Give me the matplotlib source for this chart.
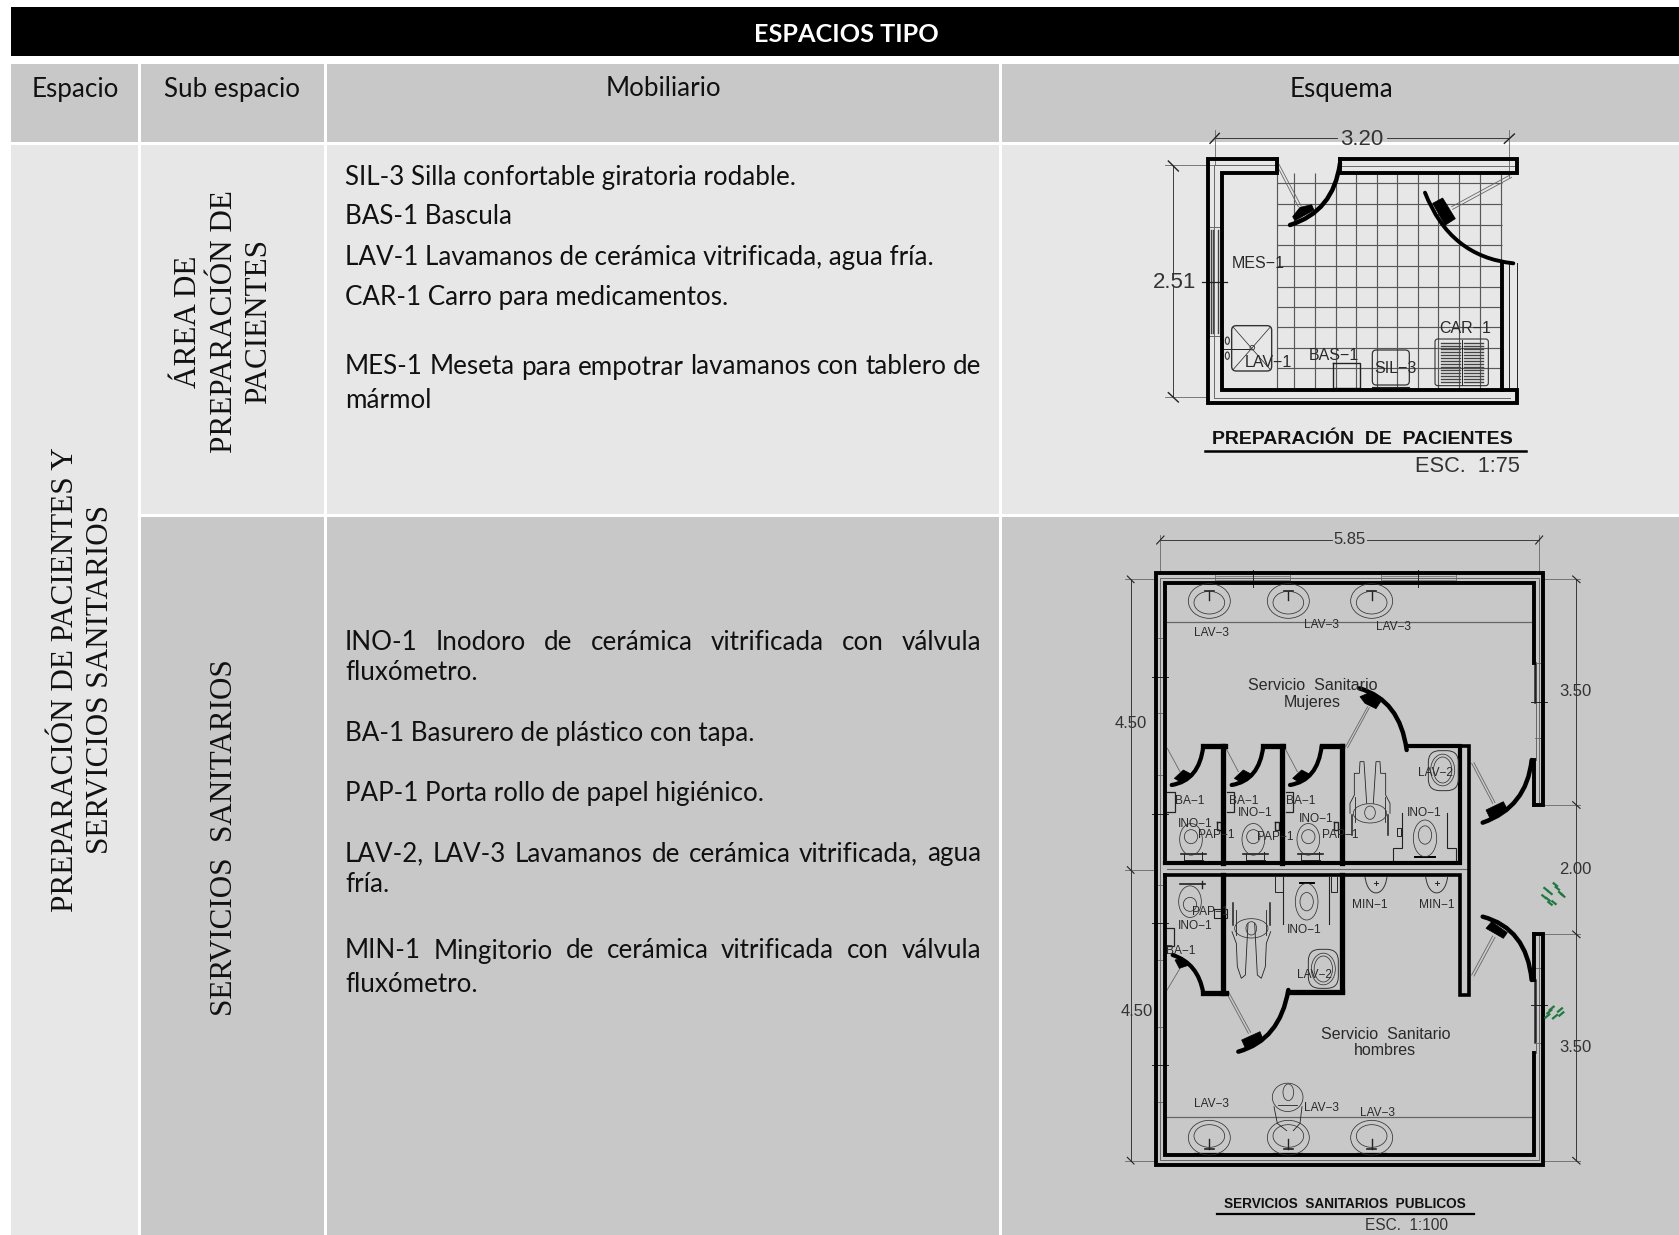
import matplotlib
matplotlib.use("Agg")
import matplotlib.pyplot as plt
from matplotlib.patches import Rectangle, Ellipse, FancyBboxPatch, PathPatch, Polygon
from matplotlib.path import Path

W, H = 1679, 1235
BODY = "Lato"
SERIF = "Liberation Serif"
CAD = "Liberation Sans"

TITLE = "ESPACIOS TIPO"
HEADERS = ["Espacio", "Sub espacio", "Mobiliario", "Esquema"]
ESPACIO = ["PREPARACIÓN DE PACIENTES Y", "SERVICIOS SANITARIOS"]
SUB_1 = ["ÁREA DE", "PREPARACIÓN DE", "PACIENTES"]
SUB_2 = "SERVICIOS  SANITARIOS"
# (text, justified?)
MOB_1 = [("SIL-3 Silla confortable giratoria rodable.", False),
         ("BAS-1 Bascula", False),
         ("LAV-1 Lavamanos de cerámica vitrificada, agua fría.", False),
         ("CAR-1 Carro para medicamentos.", False),
         ("MES-1 Meseta para empotrar lavamanos con tablero de", True),
         ("mármol", False)]
MOB_2 = [("INO-1 Inodoro de cerámica vitrificada con válvula", True),
         ("fluxómetro.", False),
         ("BA-1 Basurero de plástico con tapa.", False),
         ("PAP-1 Porta rollo de papel higiénico.", False),
         ("LAV-2, LAV-3 Lavamanos de cerámica vitrificada, agua", True),
         ("fría.", False),
         ("MIN-1 Mingitorio de cerámica vitrificada con válvula", True),
         ("fluxómetro.", False)]
MOB_1_Y = [177, 217, 257, 298, 367, 400]
MOB_2_Y = [642, 672, 733, 793, 854, 884, 951, 985]

fig = plt.figure(figsize=(W / 100, H / 100), dpi=100, facecolor="white")
ax = fig.add_axes([0, 0, 1, 1])
ax.set_xlim(0, W)
ax.set_ylim(H, 0)
ax.axis("off")

LIGHT, MID = "#E7E7E7", "#C8C8C8"


def cell(x0, x1, y0, y1, c):
    ax.add_patch(Rectangle((x0, y0), x1 - x0, y1 - y0, fc=c, ec="none", zorder=1))


cell(11, W, 7, 56, "black")
for x0, x1 in [(11, 138), (141, 324), (327, 999), (1002, W)]:
    cell(x0, x1, 64, 142, MID)
cell(11, 138, 145, H, LIGHT)
for x0, x1 in [(141, 324), (327, 999), (1002, W)]:
    cell(x0, x1, 145, 514, LIGHT)
    cell(x0, x1, 517, H, MID)

ax.text(846, 35, TITLE, color="white", weight="bold", family=BODY, fontsize=18.2,
        ha="center", va="center")
for t, x in zip(HEADERS, [75, 232, 663, 1341]):
    ax.text(x, 89, t, color="#111111", family=BODY, fontsize=18.7, ha="center", va="center")

for t, x in zip(ESPACIO, [66, 101]):
    ax.text(x, 680, t, rotation=90, family=SERIF, fontsize=22.4, color="#111111",
            ha="center", va="center")
for t, x in zip(SUB_1, [189, 224, 259]):
    ax.text(x, 322, t, rotation=90, family=SERIF, fontsize=22.4, color="#111111",
            ha="center", va="center")
ax.text(224, 838, SUB_2, rotation=90, family=SERIF, fontsize=22.4, color="#111111",
        ha="center", va="center")

fig.canvas.draw()
rend = fig.canvas.get_renderer()
L, R = 345, 981


def body_line(s, y, just):
    kw = dict(family=BODY, fontsize=18.7, color="#111111", va="center", ha="left")
    if not just:
        ax.text(L, y, s, **kw)
        return
    words = s.split(" ")
    items = [ax.text(L, y, w, **kw) for w in words]
    widths = [t.get_window_extent(rend).width for t in items]
    gap = (R - L - sum(widths)) / (len(words) - 1)
    x = L
    for t, w in zip(items, widths):
        t.set_x(x)
        x += w + gap


for (s, j), y in zip(MOB_1, MOB_1_Y):
    body_line(s, y, j)
for (s, j), y in zip(MOB_2, MOB_2_Y):
    body_line(s, y, j)


# ---- drawing helpers: coordinates below are in a local plan grid (1/3 px) ----
def frame(ox, oy):
    return lambda pts: [(ox + x / 3, oy + y / 3) for x, y in pts]


def line(T, pts, lw=0.6, c="#222222", z=4, cap="projecting"):
    xy = T(pts)
    ax.plot([p[0] for p in xy], [p[1] for p in xy], color=c, lw=lw, zorder=z,
            solid_capstyle=cap, solid_joinstyle="miter")


def curve(T, a, ctrl, b, lw=3, c="black"):
    v = T([a, ctrl, b])
    ax.add_patch(PathPatch(Path(v, [Path.MOVETO, Path.CURVE3, Path.CURVE3]), fc="none",
                           ec=c, lw=lw, zorder=6, capstyle="round"))


def blob(T, pts, c="black"):
    ax.add_patch(Polygon(T(pts), closed=True, fc=c, ec=c, lw=0.5, zorder=6))


def ell(T, cx, cy, w, h, lw=0.55, c="#333333"):
    (x, y), = T([(cx, cy)])
    ax.add_patch(Ellipse((x, y), w / 3, h / 3, fc="none", ec=c, lw=lw, zorder=5))


def rbox(T, x0, y0, x1, y1, r=12, lw=0.8, c="#333333"):
    (a, b), (d, e) = T([(x0, y0), (x1, y1)])
    ax.add_patch(FancyBboxPatch((a + r / 3, b + r / 3), d - a - 2 * r / 3, e - b - 2 * r / 3,
                                boxstyle=f"round,pad={r/3}", fc="none", ec=c, lw=lw, zorder=5))


def label(T, x, y, s, size=8.2, **kw):
    (a, b), = T([(x, y)])
    opts = dict(family=CAD, fontsize=size, color="#2A2A2A", ha="center", va="center", zorder=8)
    opts.update(kw)
    ax.text(a, b, s, **opts)


TH, GREY = 2.8, "#666666"

# ---------------- plan 1 ----------------
A = frame(1130, 120)
GRID_X = [493, 555, 617, 678, 740, 802, 865, 925, 987, 1050, 1112]
GRID_Y = [190, 252, 314, 375, 437, 500, 560, 622, 683, 745]
for gx in GRID_X:
    line(A, [(gx, 160), (gx, 805)], 0.85, "#585858", 3, "butt")
for gy in GRID_Y:
    line(A, [(440, gy), (1115, gy)], 0.85, "#585858", 3, "butt")
line(A, [(440, 160), (440, 805)], 0.85, "#585858", 3, "butt")
line(A, [(440, 118), (235, 118), (235, 850), (1160, 850), (1160, 810), (275, 810),
         (275, 160), (440, 160), (440, 118)], TH, "black", 5)
line(A, [(630, 118), (1160, 118), (1160, 160), (630, 160), (630, 118)], TH, "black", 5)
line(A, [(1115, 430), (1115, 810)], TH, "black", 5)
line(A, [(1138, 430), (1138, 810)], 0.7)
line(A, [(1160, 430), (1160, 810)], 0.7)
line(A, [(252, 135), (252, 835), (1140, 835)], 0.7, GREY)
line(A, [(252, 135), (440, 135)], 0.7, GREY)
line(A, [(630, 138), (1160, 138)], 0.7, GREY)
line(A, [(235, 322), (272, 322)], 0.7, GREY)
line(A, [(235, 648), (272, 648)], 0.7, GREY)
for wx in (243, 250, 264):
    line(A, [(wx, 330), (wx, 640)], 1.0, "#444444")
# dimensions
line(A, [(255, 55), (620, 55)], 0.6)
line(A, [(770, 55), (1138, 55)], 0.6)
line(A, [(255, 30), (255, 135)], 0.6, GREY)
line(A, [(1138, 30), (1138, 170)], 0.6, GREY)
line(A, [(240, 70), (268, 40)], 1.0)
line(A, [(1123, 70), (1153, 42)], 1.0)
line(A, [(130, 135), (130, 470)], 0.6)
line(A, [(130, 500), (130, 830)], 0.6)
line(A, [(105, 135), (250, 135)], 0.6, GREY)
line(A, [(105, 832), (235, 832)], 0.6, GREY)
line(A, [(115, 123), (145, 153)], 1.0)
line(A, [(115, 818), (145, 846)], 1.0)
line(A, [(215, 487), (290, 487)], 0.9)
label(A, 695, 58, "3.20", 16, color="#333333")
label(A, 133, 487, "2.51", 16, color="#333333")
# doors
curve(A, (630, 130), (610, 275), (480, 315), 3.2)
curve(A, (885, 218), (960, 410), (1150, 430), 2.8)
blob(A, [(488, 290), (510, 262), (545, 254), (552, 270), (495, 302)])
blob(A, [(908, 250), (938, 234), (976, 296), (945, 316)])
line(A, [(440, 135), (505, 260)], 0.6, GREY)
line(A, [(447, 133), (513, 257)], 0.6, GREY)
line(A, [(965, 260), (1140, 165)], 0.6, GREY)
line(A, [(968, 268), (1145, 172)], 0.6, GREY)
# furniture
rbox(A, 305, 617, 425, 753, 14, 1.0)
line(A, [(310, 622), (420, 748)], 0.5)
line(A, [(420, 622), (310, 748)], 0.5)
ell(A, 367, 683, 14, 14, 0.6)
line(A, [(280, 687), (360, 687)], 0.7)
ell(A, 292, 662, 12, 22, 0.8)
ell(A, 292, 707, 12, 22, 0.8)
line(A, [(610, 730), (690, 730), (690, 805), (610, 805), (610, 730)], 1.0)
rbox(A, 727, 690, 838, 795, 12, 0.9)
line(A, [(727, 800), (838, 800)], 0.8)
rbox(A, 915, 657, 1075, 797, 8, 0.8)
for px0, px1 in [(932, 990), (1002, 1060)]:
    for sy in range(668, 790, 9):
        line(A, [(px0, sy), (px1, sy)], 1.0, "#444444")
line(A, [(996, 660), (996, 795)], 0.7)
label(A, 385, 430, "MES−1", 11.5)
label(A, 415, 727, "LAV−1", 11.5)
label(A, 612, 706, "BAS−1", 11.5)
label(A, 795, 745, "SIL−3", 11.5)
label(A, 1005, 626, "CAR−1", 11.5)
label(A, 698, 957, "PREPARACIÓN  DE  PACIENTES", 14, color="#111111", weight="bold")
line(A, [(225, 992), (1188, 992)], 1.8, "black")
label(A, 1012, 1038, "ESC.  1:75", 15.7, color="#333333")

# ---------------- plan 2 ----------------
B = frame(1090, 520)
C = frame(1090, 860)
W2 = 2.8
# shell
line(B, [(1332, 855), (1360, 855), (1360, 160), (197, 160), (197, 1935), (1360, 1935),
         (1360, 1242), (1332, 1242)], W2, "black", 5)
line(B, [(1332, 430), (1332, 190), (225, 190), (225, 1030)], W2, "black", 5)
line(B, [(1332, 720), (1332, 855)], W2, "black", 5)
line(B, [(225, 1065), (225, 1905), (1332, 1905), (1332, 1600)], W2, "black", 5)
line(B, [(1332, 1242), (1332, 1380)], W2, "black", 5)
line(B, [(1336, 1380), (1336, 1565)], 1.8, "#222222")
line(B, [(1336, 430), (1336, 545)], 1.8, "#222222")
line(B, [(1339, 545), (1339, 720)], 0.7, GREY)
line(B, [(1339, 1565), (1339, 1600)], 0.7, GREY)
line(B, [(211, 175), (211, 1920), (1347, 1920), (1347, 1242)], 0.7, GREY)
line(B, [(211, 175), (1347, 175), (1347, 855)], 0.7, GREY)
line(B, [(230, 1047), (1135, 1047)], 0.8, GREY)
for wy in [355, 580, 765, 1095, 1320, 1520, 1745]:
    line(B, [(197, wy), (222, wy)], 0.6, GREY)
for wy in [430, 655, 1345, 1570]:
    line(B, [(1335, wy), (1360, wy)], 0.6, GREY)
for wx in [375, 600, 873, 1097]:
    line(B, [(wx, 165), (wx, 188)], 0.6, GREY)
for wx0, wx1 in [(378, 598), (876, 1095)]:
    line(B, [(wx0, 169), (wx1, 169)], 0.5, GREY)
    line(B, [(wx0, 181), (wx1, 181)], 0.5, GREY)
# partition walls
line(B, [(225, 1030), (1110, 1030), (1110, 678), (950, 678)], 3.0, "black", 5)
line(B, [(225, 1065), (1110, 1065), (1110, 1425), (1138, 1425), (1138, 678), (1110, 678)], 2.6, "black", 5)
for sx in (400, 575, 755):
    line(B, [(sx, 678), (sx, 1030)], 3.8, "black", 5)
for sx0, sx1 in [(340, 405), (520, 580), (695, 755)]:
    line(B, [(sx0, 678), (sx1, 678)], 3.8, "black", 5)
line(B, [(400, 1065), (400, 1420)], 3.8, "black", 5)
line(B, [(755, 1065), (755, 1412)], 3.8, "black", 5)
line(B, [(340, 1420), (408, 1420)], 3.8, "black", 5)
line(B, [(597, 1415), (755, 1415)], 3.8, "black", 5)
# doors
for x0, x1 in [(340, 245), (520, 425), (695, 600)]:
    curve(B, (x0, 678), (x0 - 12, 782), (x1, 795), 3)
    blob(B, [(x1 + 8, 775), (x1 + 35, 750), (x1 + 58, 762), (x1 + 30, 788)])
for x0, x1 in [(232, 270), (408, 445), (585, 622)]:
    line(B, [(x0, 685), (x1, 755)], 0.6, GREY)
curve(B, (950, 690), (930, 540), (808, 505), 3.2)
blob(B, [(810, 530), (838, 518), (872, 545), (858, 566), (825, 550)])
line(B, [(767, 680), (833, 560)], 0.6, GREY)
line(B, [(773, 683), (838, 563)], 0.6, GREY)
curve(B, (1325, 720), (1310, 862), (1178, 908), 3.2)
blob(B, [(1188, 870), (1240, 845), (1252, 868), (1200, 895)])
line(B, [(1145, 730), (1208, 850)], 0.6, GREY)
line(B, [(1152, 728), (1215, 848)], 0.6, GREY)
curve(C, (1325, 360), (1310, 205), (1178, 170), 3.2)
blob(C, [(1188, 205), (1205, 185), (1252, 218), (1240, 235)])
line(C, [(1145, 345), (1208, 228)], 0.6, GREY)
line(C, [(1152, 348), (1215, 232)], 0.6, GREY)
curve(C, (340, 400), (325, 310), (248, 285), 3)
blob(C, [(255, 300), (275, 295), (298, 315), (268, 325)])
line(C, [(270, 325), (230, 392)], 0.6, GREY)
curve(C, (595, 390), (570, 540), (445, 575), 3.2)
blob(C, [(455, 540), (510, 515), (520, 540), (465, 562)])
line(C, [(410, 400), (475, 520)], 0.6, GREY)
line(C, [(417, 398), (482, 517)], 0.6, GREY)
# dimensions
line(B, [(211, 60), (725, 60)], 0.6)
line(B, [(832, 60), (1347, 60)], 0.6)
line(B, [(211, 45), (211, 160)], 0.6, GREY)
line(B, [(1347, 45), (1347, 160)], 0.6, GREY)
line(B, [(200, 72), (222, 48)], 0.8)
line(B, [(1337, 72), (1358, 48)], 0.8)
line(B, [(122, 178), (122, 1920)], 0.6)
line(B, [(105, 178), (200, 178)], 0.6, GREY)
line(B, [(105, 1050), (200, 1050)], 0.6, GREY)
line(B, [(105, 1922), (197, 1922)], 0.6, GREY)
line(B, [(1458, 178), (1458, 1922)], 0.6)
line(B, [(1360, 178), (1470, 178)], 0.6, GREY)
line(B, [(1360, 855), (1470, 855)], 0.6, GREY)
line(B, [(1360, 1243), (1470, 1243)], 0.6, GREY)
line(B, [(1360, 1922), (1470, 1922)], 0.6, GREY)
for ty in (178, 1050, 1922):
    line(B, [(112, ty - 10), (132, ty + 10)], 0.8)
for ty in (178, 855, 1243, 1922):
    line(B, [(1448, ty - 10), (1470, ty + 10)], 0.8)
for ty in (470, 882, 1210, 1635):
    line(B, [(185, ty), (235, ty)], 0.7)
for ty in (545, 1455):
    line(B, [(1322, ty), (1370, ty)], 0.7)
for tx in (488, 985):
    line(B, [(tx, 150), (tx, 200)], 0.7)
label(B, 778, 60, "5.85", 12, color="#333333")
label(B, 123, 612, "4.50", 12, color="#333333")
label(C, 140, 456, "4.50", 12, color="#333333")
label(B, 1456, 515, "3.50", 12, color="#333333")
label(B, 1456, 1050, "2.00", 12, color="#333333")
label(C, 1456, 563, "3.50", 12, color="#333333")
# counters and sinks
line(B, [(230, 306), (1328, 306)], 0.9, GREY)
line(C, [(230, 771), (1328, 771)], 0.9, GREY)
for sx in (358, 595, 845):
    ell(B, sx, 243, 126, 104)
    ell(B, sx, 248, 92, 68)
    line(B, [(sx - 14, 212), (sx + 14, 212)], 1.2)
    line(B, [(sx, 212), (sx, 240)], 1.0)
    ell(C, sx, 833, 126, 104)
    ell(C, sx, 828, 92, 68)
    line(C, [(sx - 14, 868), (sx + 14, 868)], 1.2)
    line(C, [(sx, 838), (sx, 868)], 1.0)
    line(C, [(sx - 42, 882), (sx + 42, 882)], 1.6, "black")
# toilets
for tx, ty in [(303, 958), (490, 958), (655, 958)]:
    ell(B, tx, ty, 68, 95)
    ell(B, tx, ty - 8, 40, 42)
    line(B, [(tx - 30, 1003), (tx + 45, 1003)], 1.2)
    line(B, [(tx - 22, 1020), (tx + 35, 1020)], 0.7)
    line(B, [(tx + 32, 995), (tx + 32, 1030)], 0.7)
    line(B, [(tx - 22, 1003), (tx - 22, 1028)], 0.7)
ell(B, 1005, 955, 70, 110)
ell(B, 1005, 945, 40, 55)
line(B, [(975, 1012), (1035, 1012)], 1.4, "black")
line(B, [(935, 880), (935, 985), (910, 985), (910, 1030)], 0.8)
line(B, [(1072, 880), (1072, 985), (1098, 985), (1098, 1030)], 0.8)
line(B, [(920, 925), (932, 925), (932, 948), (920, 948), (920, 925)], 0.7)
ell(C, 300, 125, 68, 95)
ell(C, 300, 133, 40, 42)
line(C, [(270, 72), (345, 72)], 1.2)
line(C, [(335, 62), (335, 85)], 1.0)
line(C, [(372, 148), (410, 148), (410, 175), (372, 175), (372, 148)], 0.8)
ell(C, 650, 125, 68, 110)
ell(C, 650, 125, 40, 55)
line(C, [(630, 68), (672, 68)], 1.4, "black")
line(C, [(580, 50), (580, 192)], 0.8)
line(C, [(716, 50), (716, 192)], 0.8)
line(C, [(555, 50), (555, 95), (578, 95), (578, 50)], 0.7)
line(C, [(722, 50), (722, 95), (740, 95), (740, 50)], 0.7)
for sx, sy in [(240, 845), (418, 845), (595, 845)]:
    line(B, [(sx - 8, sy - 28), (sx + 14, sy - 28), (sx + 14, sy + 30), (sx - 8, sy + 30)], 0.9)
for sx in (380, 555, 733):
    line(B, [(sx, 905), (sx + 12, 905), (sx + 12, 930), (sx, 930), (sx, 905)], 1.0)
line(C, [(230, 205), (252, 205), (252, 258), (230, 258)], 0.9)
# basins in accessible stalls
rbox(B, 1015, 692, 1105, 812, 35, 0.7)
ell(B, 1058, 750, 72, 95)
ell(B, 1058, 750, 55, 78)
rbox(C, 655, 268, 745, 385, 35, 0.7)
ell(C, 700, 327, 72, 95)
ell(C, 700, 327, 55, 78)
# urinals
for ux in (858, 1040):
    v = C([(ux - 33, 50), (ux - 25, 115), (ux + 25, 115), (ux + 33, 50)])
    ax.add_patch(PathPatch(Path(v, [Path.MOVETO, Path.CURVE4, Path.CURVE4, Path.CURVE4]),
                           fc="none", ec="#333333", lw=0.7, zorder=5))
    line(C, [(ux, 62), (ux, 76)], 0.7)
    line(C, [(ux - 6, 69), (ux + 6, 69)], 0.7)
# wheelchairs
ell(B, 840, 880, 100, 58)
ell(B, 840, 878, 32, 40)
for sg in (-1, 1):
    cx = 840
    line(B, [(cx + sg * 10, 850), (cx + sg * 18, 725), (cx + sg * 30, 725), (cx + sg * 32, 760),
             (cx + sg * 47, 760), (cx + sg * 47, 825), (cx + sg * 60, 850), (cx + sg * 60, 880)], 0.6)
    line(B, [(cx + sg * 55, 885), (cx + sg * 55, 945)], 1.1)
    line(B, [(cx + sg * 45, 830), (cx + sg * 45, 905)], 0.6)
    line(C, [(484 + sg * 10, 190), (484 + sg * 18, 345), (484 + sg * 30, 355), (484 + sg * 42, 320),
             (484 + sg * 45, 250), (484 + sg * 58, 215)], 0.6)
    line(C, [(484 + sg * 55, 130), (484 + sg * 55, 195)], 1.1)
    line(C, [(484 + sg * 45, 150), (484 + sg * 45, 225)], 0.6)
ell(C, 484, 205, 100, 58)
ell(C, 484, 205, 32, 40)
# person at sink
ell(C, 595, 697, 32, 50)
ell(C, 593, 712, 92, 85)
line(C, [(552, 740), (562, 790), (590, 812)], 0.6)
line(C, [(636, 740), (630, 790), (610, 812)], 0.6)
line(C, [(565, 735), (622, 735)], 0.6)
# plants
GREEN = "#1E7A3E"
for cx, cy in [(1368, 88), (1380, 98), (1402, 85), (1412, 100), (1362, 110), (1392, 128),
               (1380, 130), (1418, 106), (1396, 74), (1374, 118)]:
    line(C, [(cx - 5, cy - 4), (cx + 5, cy + 4)], 1.6, GREEN, 7)
for cx, cy in [(1378, 455), (1410, 450), (1395, 470), (1385, 445), (1414, 462), (1372, 468)]:
    line(C, [(cx - 6, cy + 5), (cx + 6, cy - 5)], 1.6, GREEN, 7)
# labels
for x, y, s in [(365, 340, "LAV−3"), (695, 315, "LAV−3"), (911, 320, "LAV−3"),
                (300, 844, "BA−1"), (460, 844, "BA−1"), (632, 844, "BA−1"),
                (497, 878, "INO−1"), (315, 912, "INO−1"), (680, 898, "INO−1"),
                (1002, 878, "INO−1"), (380, 945, "PAP−1"), (555, 950, "PAP−1"),
                (750, 945, "PAP−1"), (1037, 758, "LAV−2")]:
    label(B, x, y, s, 8.6)
for x, y, s in [(840, 136, "MIN−1"), (1040, 134, "MIN−1"), (315, 197, "INO−1"),
                (643, 210, "INO−1"), (360, 155, "PAP−1"), (272, 274, "BA−1"),
                (672, 346, "LAV−2"), (365, 731, "LAV−3"), (695, 745, "LAV−3"),
                (863, 759, "LAV−3")]:
    label(C, x, y, s, 8.6)
label(B, 667, 498, "Servicio  Sanitario", 11.5)
label(B, 667, 547, "Mujeres", 11.5)
label(C, 886, 523, "Servicio  Sanitario", 11.5)
label(C, 886, 571, "hombres", 11.5)
label(C, 764, 1032, "SERVICIOS  SANITARIOS  PUBLICOS", 9.8, color="#111111", weight="bold")
line(C, [(382, 1063), (1152, 1063)], 1.6, "black")
label(C, 950, 1095, "ESC.  1:100", 11.2, color="#333333")

fig.savefig("out.png", dpi=100, facecolor="white")
